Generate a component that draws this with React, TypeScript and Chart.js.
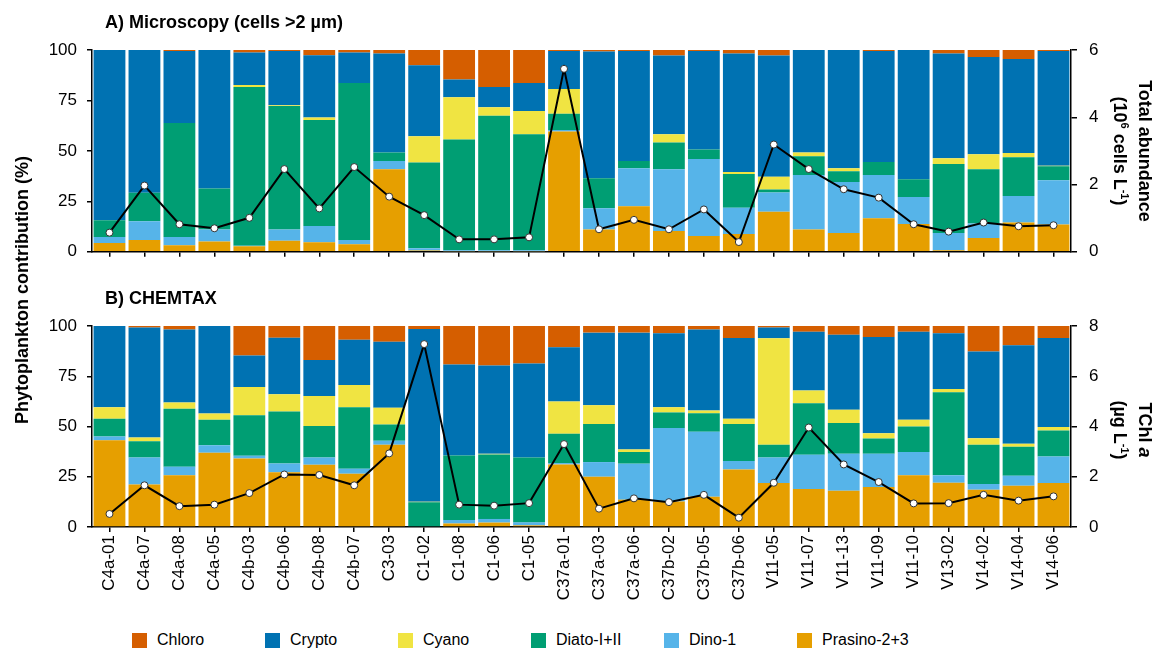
import React, { useEffect, useRef } from 'react';
import { Chart, registerables } from 'chart.js';

Chart.register(...registerables);

const categories = [
  'C4a-01', 'C4a-07', 'C4a-08', 'C4a-05', 'C4b-03', 'C4b-06', 'C4b-08', 'C4b-07', 'C3-03', 'C1-02',
  'C1-08', 'C1-06', 'C1-05', 'C37a-01', 'C37a-03', 'C37a-06', 'C37b-02', 'C37b-05', 'C37b-06',
  'V11-05', 'V11-07', 'V11-13', 'V11-09', 'V11-10', 'V13-02', 'V14-02', 'V14-04', 'V14-06',
];

const seriesNames = ['Chloro', 'Crypto', 'Cyano', 'Diato-I+II', 'Dino-1', 'Prasino-2+3'];
const seriesColors = ['#D55E00', '#0072B2', '#F0E442', '#009E73', '#56B4E9', '#E69F00'];

// Panel A: Microscopy (cells >2 µm), %
const microChloro = [0, 0, 0.5, 0, 1.3, 0.5, 2.7, 1.3, 1.7, 7.6, 14.6, 18.3, 16.4, 0.5, 0.8, 0.5, 2.7, 0.5, 1.7, 2.7, 0, 0, 0.5, 0, 1.7, 3.5, 4.5, 0.5];
const microCrypto = [84.4, 70.8, 35.7, 68.6, 16.1, 26.9, 30.9, 15.0, 49.1, 35.1, 8.8, 10.1, 13.8, 18.8, 62.8, 54.5, 39.0, 48.8, 58.8, 60.1, 50.8, 58.6, 55.0, 64.1, 52.0, 48.2, 46.5, 56.8];
const microCyano = [0, 0, 0, 0, 0.9, 0.3, 1.2, 0, 0, 13.1, 21.0, 4.2, 11.5, 12.3, 0, 0, 4.1, 0, 1.0, 6.3, 1.9, 1.5, 0, 0, 2.8, 7.4, 2.2, 0.3];
const microDiato = [8.3, 14.1, 56.5, 20.4, 78.7, 61.3, 52.5, 77.9, 4.2, 42.4, 54.8, 66.6, 57.5, 8.1, 14.8, 3.6, 13.3, 4.7, 16.7, 1.5, 9.3, 5.3, 6.5, 8.7, 34.2, 26.9, 19.2, 7.0];
const microDino = [3.0, 9.3, 4.0, 5.9, 0.3, 5.5, 8.1, 2.0, 4.1, 1.1, 0.5, 0.5, 0.5, 0.7, 10.6, 18.8, 30.6, 38.2, 13.0, 9.6, 27.0, 25.3, 21.4, 13.4, 8.5, 7.2, 13.1, 21.9];
const microPrasino = [4.3, 5.8, 3.3, 5.1, 2.7, 5.5, 4.7, 3.8, 40.9, 0.7, 0.3, 0.3, 0.3, 59.6, 11.0, 22.6, 10.3, 7.8, 8.8, 19.8, 11.0, 9.3, 16.6, 13.8, 0.8, 6.8, 14.5, 13.5];
// Total abundance (10^6 cells L-1)
const totalAbundance = [0.57, 1.97, 0.82, 0.70, 1.01, 2.46, 1.29, 2.52, 1.64, 1.09, 0.37, 0.37, 0.43, 5.44, 0.67, 0.95, 0.67, 1.26, 0.29, 3.19, 2.46, 1.86, 1.61, 0.82, 0.60, 0.87, 0.76, 0.79];

// Panel B: CHEMTAX, %
const chemChloro = [0, 0.8, 1.7, 0, 14.7, 5.8, 16.9, 6.8, 7.8, 1.5, 19.2, 19.7, 18.7, 10.6, 3.3, 3.3, 3.6, 1.8, 6.0, 0.8, 2.8, 4.3, 5.5, 2.8, 3.6, 12.7, 9.6, 6.0];
const chemCrypto = [40.4, 54.7, 36.4, 43.5, 15.6, 28.1, 17.9, 22.5, 32.9, 85.9, 45.2, 43.9, 46.7, 27.0, 36.1, 58.1, 36.8, 40.3, 40.2, 5.3, 29.3, 37.4, 47.8, 43.9, 27.7, 43.1, 49.0, 44.3];
const chemCyano = [5.8, 1.8, 3.1, 3.2, 14.1, 8.6, 15.0, 11.1, 8.3, 0.3, 0, 0.3, 0, 16.0, 9.4, 1.3, 2.6, 1.3, 2.6, 53.0, 6.3, 6.5, 2.7, 3.3, 1.6, 3.3, 1.5, 1.7];
const chemDiato = [8.8, 8.1, 28.8, 12.6, 20.2, 25.9, 15.6, 30.6, 8.1, 12.3, 32.1, 32.1, 32.3, 14.6, 18.9, 5.8, 7.8, 9.2, 18.4, 6.3, 25.7, 15.4, 7.6, 12.7, 41.3, 19.5, 14.4, 12.9];
const chemDino = [1.8, 13.4, 4.2, 3.8, 1.3, 4.3, 3.6, 2.5, 2.0, 0, 1.8, 1.8, 1.5, 0.7, 7.3, 17.9, 36.5, 32.3, 4.2, 12.7, 17.0, 18.4, 16.5, 11.5, 3.8, 2.9, 5.0, 13.2];
const chemPrasino = [43.2, 21.2, 25.8, 36.9, 34.1, 27.3, 31.0, 26.5, 40.9, 0, 1.7, 2.2, 0.8, 31.1, 25.0, 13.6, 12.7, 15.1, 28.6, 21.9, 18.9, 18.0, 19.9, 25.8, 22.0, 18.5, 20.5, 21.9];
// TChl a (µg L-1)
const tchlA = [0.52, 1.66, 0.83, 0.89, 1.35, 2.09, 2.07, 1.66, 2.93, 7.28, 0.89, 0.85, 0.95, 3.30, 0.73, 1.14, 0.99, 1.28, 0.37, 1.76, 3.96, 2.49, 1.79, 0.94, 0.95, 1.28, 1.05, 1.22];

const percentTicks = [0, 25, 50, 75, 100];

const FONT = "'Liberation Sans', Arial, Helvetica, sans-serif";

function buildConfig(
  groups: number[][],
  line: number[],
  y2Max: number,
  showLabels: boolean,
  xHeight: number
): any {
  // groups in order: Chloro, Crypto, Cyano, Diato, Dino, Prasino ; stack bottom-up is reversed
  const barSets = [5, 4, 3, 2, 1, 0].map((i) => ({
    type: 'bar',
    label: seriesNames[i],
    data: groups[i],
    backgroundColor: seriesColors[i],
    borderWidth: 0,
    yAxisID: 'y',
    order: 1,
    categoryPercentage: 0.91,
    barPercentage: 1,
  }));
  const lineSet = {
    type: 'line',
    label: 'total',
    data: line,
    yAxisID: 'y2',
    borderColor: '#000',
    borderWidth: 2,
    pointRadius: 3.5,
    pointBackgroundColor: '#fff',
    pointBorderColor: '#333',
    pointBorderWidth: 1,
    order: 0,
    tension: 0,
  };
  const tickFont = { size: 17, family: FONT };
  return {
    type: 'bar',
    data: { labels: categories, datasets: [lineSet, ...barSets] },
    options: {
      animation: false,
      responsive: true,
      maintainAspectRatio: false,
      layout: { padding: { top: 50, left: 0, right: 0, bottom: 0 } },
      plugins: { legend: { display: false }, tooltip: { enabled: false } },
      scales: {
        x: {
          stacked: true,
          grid: { display: true, drawOnChartArea: false, offset: false, drawTicks: true, tickLength: 5, color: '#000', lineWidth: 1.5 },
          border: { display: true, color: '#000', width: 1.5 },
          ticks: { display: showLabels, autoSkip: false, minRotation: 90, maxRotation: 90, color: '#000', font: tickFont, padding: 3 },
          afterFit: (s: any) => { s.height = xHeight; },
        },
        y: {
          stacked: true,
          position: 'left',
          min: 0,
          max: 100,
          afterBuildTicks: (s: any) => { s.ticks = percentTicks.map((v) => ({ value: v })); },
          ticks: { color: '#000', font: tickFont, padding: 10 },
          grid: { drawOnChartArea: false, tickLength: 5, color: '#000', lineWidth: 1.5 },
          border: { display: true, color: '#000', width: 1.5 },
          afterFit: (s: any) => { s.width = 92; },
        },
        y2: {
          position: 'right',
          min: 0,
          max: y2Max,
          ticks: { stepSize: 2, color: '#000', font: tickFont, padding: 12 },
          grid: { drawOnChartArea: false, tickLength: 6, color: '#000', lineWidth: 1.5 },
          border: { display: true, color: '#000', width: 1.5 },
          afterFit: (s: any) => { s.width = 90; },
        },
      },
    },
  };
}

function Panel(props: { top: number; height: number; config: any }) {
  const ref = useRef<HTMLCanvasElement | null>(null);
  useEffect(() => {
    if (!ref.current) return;
    const chart = new Chart(ref.current, props.config);
    return () => chart.destroy();
  }, []);
  return (
    <div style={{ position: 'absolute', left: 0, top: props.top, width: 1161, height: props.height }}>
      <canvas ref={ref} />
    </div>
  );
}

const textBase: React.CSSProperties = { position: 'absolute', fontFamily: FONT, color: '#000', whiteSpace: 'nowrap' };
const supStyle: React.CSSProperties = { fontSize: 11, verticalAlign: 'super', lineHeight: 0 };

export default function App() {
  const microGroups = [microChloro, microCrypto, microCyano, microDiato, microDino, microPrasino];
  const chemGroups = [chemChloro, chemCrypto, chemCyano, chemDiato, chemDino, chemPrasino];
  const cfgA = buildConfig(microGroups, totalAbundance, 6, false, 14);
  const cfgB = buildConfig(chemGroups, tchlA, 8, true, 99);
  const legendX = [132, 265, 398, 531, 664, 797];
  return (
    <div style={{ position: 'fixed', left: 0, top: 0, width: 1161, height: 656, background: '#fff', overflow: 'hidden' }}>
      <Panel top={0} height={274} config={cfgA} />
      <Panel top={276} height={350} config={cfgB} />

      <div style={{ ...textBase, left: 105, top: 12, fontSize: 18, fontWeight: 'bold' }}>A) Microscopy (cells &gt;2 µm)</div>
      <div style={{ ...textBase, left: 105, top: 288, fontSize: 18, fontWeight: 'bold' }}>B) CHEMTAX</div>

      <div style={{ ...textBase, left: 22 - 200, top: 290 - 12, width: 400, height: 24, lineHeight: '24px', textAlign: 'center', fontSize: 18, fontWeight: 'bold', transform: 'rotate(-90deg)' }}>
        Phytoplankton contribution (%)
      </div>

      <div style={{ ...textBase, left: 1132 - 100, top: 151 - 25, width: 200, height: 50, lineHeight: '25px', textAlign: 'center', fontSize: 18, fontWeight: 'bold', transform: 'rotate(90deg)' }}>
        <div>Total abundance</div>
        <div>(10<sup style={supStyle}>6</sup> cells L<sup style={supStyle}>-1</sup>)</div>
      </div>

      <div style={{ ...textBase, left: 1132 - 100, top: 430 - 25, width: 200, height: 50, lineHeight: '25px', textAlign: 'center', fontSize: 18, fontWeight: 'bold', transform: 'rotate(90deg)' }}>
        <div>TChl <i>a</i></div>
        <div>(µg L<sup style={supStyle}>-1</sup>)</div>
      </div>

      {seriesNames.map((name, i) => (
        <div key={name} style={{ ...textBase, left: legendX[i], top: 631, height: 18, display: 'flex', alignItems: 'center', fontSize: 16 }}>
          <span style={{ display: 'inline-block', width: 15, height: 15, background: seriesColors[i], marginRight: 10 }} />
          <span>{name}</span>
        </div>
      ))}
    </div>
  );
}
